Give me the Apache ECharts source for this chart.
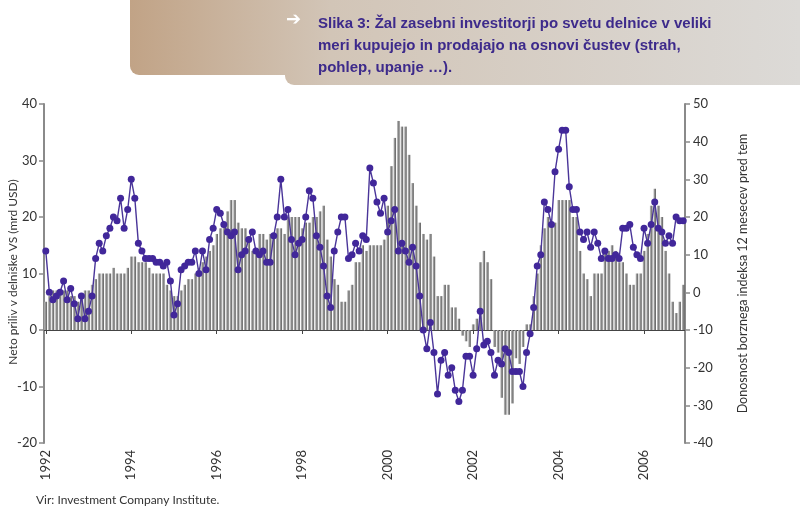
<!DOCTYPE html>
<html>
<head>
<meta charset="utf-8">
<script src="https://cdn.jsdelivr.net/npm/echarts@6/dist/echarts.min.js"></script>
<style>
html,body{margin:0;padding:0;background:#fff;}
#chart{width:800px;height:510px;}
</style>
</head>
<body>
<div id="chart"></div>
<script>
// Years shown on the axis (monthly data 1992-01 .. 2006-12)
const years = [1992,1993,1994,1995,1996,1997,1998,1999,2000,2001,2002,2003,2004,2005,2006];
const monthNames = ['01','02','03','04','05','06','07','08','09','10','11','12'];
const tickYears = ['1992','1994','1996','1998','2000','2002','2004','2006'];

// Net inflow into US equity funds (bn USD), left axis
const netFlows = [
  5, 6, 7, 7, 7, 7, 7, 6, 6, 5,
  6, 7, 7, 8, 9, 10, 10, 10, 10, 11,
  10, 10, 10, 11, 13, 13, 12, 12, 12, 11,
  10, 10, 10, 10, 8, 7, 6, 6, 7, 8,
  9, 9, 10, 11, 12, 13, 14, 15, 17, 18,
  19, 21, 23, 23, 19, 18, 18, 16, 14, 14,
  17, 17, 16, 17, 17, 18, 18, 17, 20, 20,
  20, 20, 18, 19, 19, 20, 20, 21, 22, 16,
  13, 9, 8, 5, 5, 7, 8, 12, 12, 15,
  14, 15, 15, 15, 15, 16, 22, 29, 34, 37,
  36, 36, 31, 26, 22, 19, 17, 16, 17, 13,
  6, 6, 8, 8, 4, 4, 2, -1, -2, -3,
  1, 2, 12, 14, 12, 9, -3, -4, -12, -15,
  -15, -13, -5, -6, -3, 1, 1, 6, 10, 15,
  18, 20, 19, 19, 23, 23, 23, 23, 20, 20,
  14, 10, 9, 6, 10, 10, 10, 14, 14, 15,
  14, 12, 12, 10, 8, 8, 10, 10, 14, 17,
  22, 25, 22, 20, 14, 10, 5, 3, 5, 8
];

// 12-month stock index return (%), right axis
const indexReturns = [
  11, 0, -2, -1, 0, 3, -2, 1, -3, -7,
  -1, -7, -5, -1, 9, 13, 11, 15, 17, 20,
  19, 25, 17, 22, 30, 25, 13, 11, 9, 9,
  9, 8, 8, 7, 8, 3, -6, -3, 6, 7,
  8, 8, 11, 5, 11, 6, 14, 17, 22, 21,
  18, 16, 15, 16, 6, 10, 11, 14, 16, 11,
  10, 11, 8, 8, 15, 20, 30, 20, 22, 14,
  10, 13, 14, 20, 27, 25, 15, 12, 7, -1,
  -4, 11, 16, 20, 20, 9, 10, 13, 11, 15,
  14, 33, 29, 24, 21, 25, 16, 19, 22, 11,
  13, 11, 8, 12, 7, -1, -10, -15, -8, -16,
  -27, -18, -16, -22, -20, -26, -29, -26, -17, -17,
  -22, -15, -5, -14, -13, -16, -22, -18, -19, -15,
  -16, -21, -21, -21, -25, -16, -11, -4, 7, 10,
  24, 22, 18, 32, 38, 43, 43, 28, 22, 22,
  16, 14, 16, 12, 16, 13, 9, 11, 9, 9,
  10, 9, 17, 17, 18, 12, 10, 9, 17, 13,
  18, 24, 17, 16, 13, 15, 13, 20, 19, 19
];

const categories = [];
years.forEach(y => monthNames.forEach(m => categories.push(y + '-' + m)));
const isTick = (idx, val) => val.slice(5) === '01' && tickYears.indexOf(val.slice(0, 4)) >= 0;

const chart = echarts.init(document.getElementById('chart'), null, {renderer: 'canvas'});
const axisFont = 'Lato';

const barGradient = {type: 'linear', x: 0, y: 0, x2: 1, y2: 0, colorStops: [
  {offset: 0, color: '#c4c4c4'},
  {offset: 0.45, color: '#8e8e8e'},
  {offset: 1, color: '#5e5e5e'}
]};
const boxGradient = {type: 'linear', x: 130, y: 0, x2: 800, y2: 0, global: true, colorStops: [
  {offset: 0, color: '#c1a386'},
  {offset: 0.3, color: '#d2c5b7'},
  {offset: 1, color: '#dcdad7'}
]};

chart.setOption({
  animation: false,
  backgroundColor: '#fff',
  grid: {left: 44, right: 115, top: 104, bottom: 67, containLabel: false, outerBoundsMode: 'none'},
  xAxis: [
    {
      type: 'category', data: categories, position: 'bottom', boundaryGap: true,
      axisLine: {show: false, onZero: false},
      axisTick: {show: false},
      axisLabel: {
        interval: isTick, rotate: 90, margin: 7,
        formatter: v => v.slice(0, 4),
        color: '#333', fontSize: 13, fontFamily: axisFont
      },
      splitLine: {show: false}
    },
    {
      type: 'category', data: categories, position: 'bottom', boundaryGap: true,
      axisLine: {show: true, onZero: true, onZeroAxisIndex: 0, lineStyle: {color: '#444', width: 1}},
      axisTick: {show: true, interval: isTick, alignWithLabel: true, length: 4, lineStyle: {color: '#444'}},
      axisLabel: {show: false},
      splitLine: {show: false}
    }
  ],
  yAxis: [
    {
      type: 'value', min: -20, max: 40, interval: 10, position: 'left',
      axisLine: {show: true, lineStyle: {color: '#8a8a8a', width: 2}},
      axisTick: {show: true, length: 5, lineStyle: {color: '#8a8a8a', width: 1.5}},
      axisLabel: {color: '#333', fontSize: 13, fontFamily: axisFont, margin: 7},
      splitLine: {show: false}
    },
    {
      type: 'value', min: -40, max: 50, interval: 10, position: 'right',
      axisLine: {show: true, lineStyle: {color: '#8a8a8a', width: 2}},
      axisTick: {show: true, length: 5, lineStyle: {color: '#8a8a8a', width: 1.5}},
      axisLabel: {color: '#333', fontSize: 13, fontFamily: axisFont, margin: 8},
      splitLine: {show: false},
      name: 'Donosnost borznega indeksa 12 mesecev pred tem',
      nameLocation: 'middle', nameGap: 51, nameRotate: 90,
      nameTextStyle: {color: '#333', fontSize: 12.5, fontFamily: axisFont}
    }
  ],
  series: [
    {
      type: 'bar', xAxisIndex: 0, yAxisIndex: 0, data: netFlows,
      barWidth: '72%', z: 2,
      itemStyle: {color: barGradient}
    },
    {
      type: 'line', xAxisIndex: 0, yAxisIndex: 1, data: indexReturns,
      z: 5, symbol: 'circle', symbolSize: 7, showSymbol: true, showAllSymbol: true,
      itemStyle: {color: '#41279a'},
      lineStyle: {color: '#4a3599', width: 1.4}
    }
  ],
  graphic: [
    {
      type: 'rect', z: 10,
      shape: {x: 130, y: -10, width: 690, height: 85, r: [0, 0, 0, 9]},
      style: {fill: boxGradient}
    },
    {
      type: 'rect', z: 10,
      shape: {x: 285, y: -10, width: 535, height: 95, r: [0, 0, 0, 9]},
      style: {fill: boxGradient}
    },
    {
      type: 'text', left: 286, top: 11, z: 11,
      style: {text: '➔', fill: '#ffffff', font: 'bold 18px "DejaVu Sans"'}
    },
    {
      type: 'text', left: 318, top: 13, z: 11,
      style: {
        text: 'Slika 3: Žal zasebni investitorji po svetu delnice v veliki\nmeri kupujejo in prodajajo na osnovi čustev (strah,\npohlep, upanje …).',
        fill: '#3d2a8b', font: 'bold 15px "Liberation Sans Narrow", "Liberation Sans", sans-serif',
        lineHeight: 22
      }
    },
    {
      type: 'text', x: 13, y: 272, rotation: Math.PI / 2, z: 11,
      style: {
        text: 'Neto priliv v delniške VS (mrd USD)',
        fill: '#333', font: '12px Lato', align: 'center', verticalAlign: 'middle'
      }
    },
    {
      type: 'text', left: 36, top: 494, z: 11,
      style: {text: 'Vir: Investment Company Institute.', fill: '#333', font: '12px Lato'}
    }
  ]
});
</script>
</body>
</html>
